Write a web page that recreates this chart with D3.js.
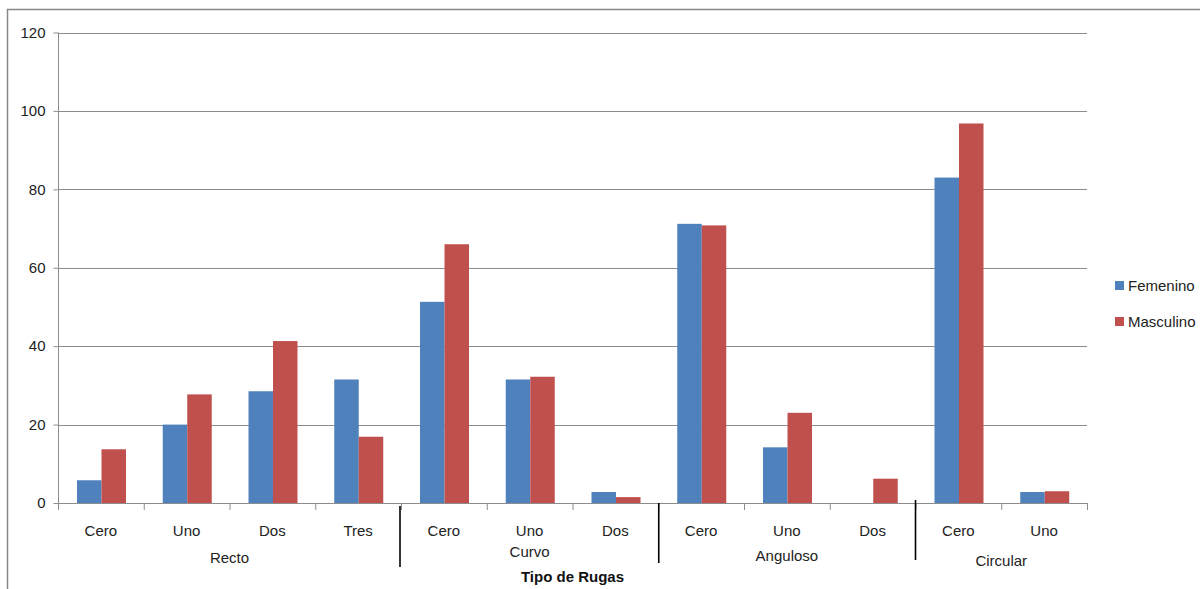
<!DOCTYPE html>
<html><head><meta charset="utf-8">
<script src="https://cdn.jsdelivr.net/npm/d3@7"></script>
<style>body{margin:0;background:#fff}svg text{font-family:"Liberation Sans",Arial,sans-serif}</style>
</head><body><svg id="c" width="1200" height="589"></svg>
<script>
const groups = ["Recto","Curvo","Anguloso","Circular"];
const categories = ["Cero","Uno","Dos","Tres","Cero","Uno","Dos","Cero","Uno","Dos","Cero","Uno"];
const categoryGroup = [0,0,0,0,1,1,1,2,2,2,3,3];
const femenino = [5.8,20,28.5,31.5,51.3,31.5,2.8,71.2,14.2,0,83,2.8];
const masculino = [13.7,27.7,41.3,16.9,66,32.2,1.5,70.8,23,6.2,96.8,3.0];
const seriesNames = ["Femenino","Masculino"];
const colors = ["#4F81BD","#C0504D"];
const yTicks = [0,20,40,60,80,100,120];

const svg = d3.select("#c");
const L=58,R=1087,T=32.5,B=503;
svg.append("path").attr("d","M7.5,589 V9.5 H1200").attr("fill","none").attr("stroke","#888").attr("stroke-width",1.5);

const x = d3.scaleBand().domain(d3.range(categories.length)).range([L,R]).paddingInner(0).paddingOuter(0);
const y = d3.scaleLinear().domain([0,120]).range([B,T]);

svg.append("g").selectAll("line").data(yTicks.filter(d=>d>0)).join("line")
 .attr("x1",L).attr("x2",R).attr("y1",d=>Math.round(y(d))+0.5).attr("y2",d=>Math.round(y(d))+0.5)
 .attr("stroke","#8c8c8c").attr("stroke-width",1);

const ya = svg.append("g").attr("transform",`translate(${L+0.5},0)`).call(d3.axisLeft(y).tickValues(yTicks).tickSize(5).tickPadding(8));
ya.select(".domain").attr("stroke","#8c8c8c").attr("d",`M0,${T}V${B}`);
ya.selectAll(".tick line").attr("stroke","#8c8c8c");
ya.selectAll("text").attr("font-size",15).attr("fill","#222").style("font-family","Liberation Sans");

const data = [femenino, masculino];
const inner = 19/85.75;
const bw = 24.5/85.75;
svg.append("g").selectAll("g").data(data).join("g").attr("fill",(d,i)=>colors[i])
 .each(function(vals,si){
   d3.select(this).selectAll("rect").data(vals).join("rect")
    .attr("x",(v,i)=>x(i)+x.bandwidth()*(inner+si*bw))
    .attr("width",x.bandwidth()*bw)
    .attr("y",v=>y(v)).attr("height",v=>B-y(v));
 });

svg.append("line").attr("x1",L).attr("x2",R).attr("y1",B+0.5).attr("y2",B+0.5).attr("stroke","#8c8c8c");
const bounds = d3.range(categories.length+1);
svg.append("g").selectAll("line").data(bounds).join("line")
 .attr("x1",i=>(i<categories.length?x(i):R)+0.5).attr("x2",i=>(i<categories.length?x(i):R)+0.5)
 .attr("y1",B).attr("y2",B+7).attr("stroke","#8c8c8c");

svg.append("g").selectAll("text").data(categories).join("text")
 .attr("x",(d,i)=>x(i)+x.bandwidth()/2).attr("y",536).attr("text-anchor","middle")
 .attr("font-size",15).attr("fill","#222").text(d=>d);

const groupCenters = groups.map((g,gi)=>{
  const idx = categoryGroup.map((c,i)=>c===gi?i:-1).filter(i=>i>=0);
  return (x(idx[0]) + x(idx[idx.length-1]) + x.bandwidth())/2;
});
const groupLabelY = [563,557,561,566];
svg.append("g").selectAll("text").data(groups).join("text")
 .attr("x",(d,i)=>groupCenters[i]).attr("y",(d,i)=>groupLabelY[i]).attr("text-anchor","middle")
 .attr("font-size",15).attr("fill","#222").text(d=>d);

const sepIdx = [4,7,10];
const sepY = [[506,567],[503,563],[500,560]];
const sepDx = [-1,0.5,0];
svg.append("g").selectAll("line").data(sepIdx).join("line")
 .attr("x1",(d,i)=>x(d)+sepDx[i]).attr("x2",(d,i)=>x(d)+sepDx[i])
 .attr("y1",(d,i)=>sepY[i][0]).attr("y2",(d,i)=>sepY[i][1]).attr("stroke","#000").attr("stroke-width",1.6);

svg.append("text").attr("x",(L+R)/2).attr("y",582).attr("text-anchor","middle")
 .attr("font-size",15).attr("font-weight","bold").attr("fill","#111").text("Tipo de Rugas");

const lg = svg.append("g");
seriesNames.forEach((s,i)=>{
  const yy = 286 + i*36;
  lg.append("rect").attr("x",1115).attr("y",yy-5).attr("width",9).attr("height",9).attr("fill",colors[i]);
  lg.append("text").attr("x",1128).attr("y",yy+5).attr("font-size",15).attr("fill","#222").text(s);
});
</script></body></html>
